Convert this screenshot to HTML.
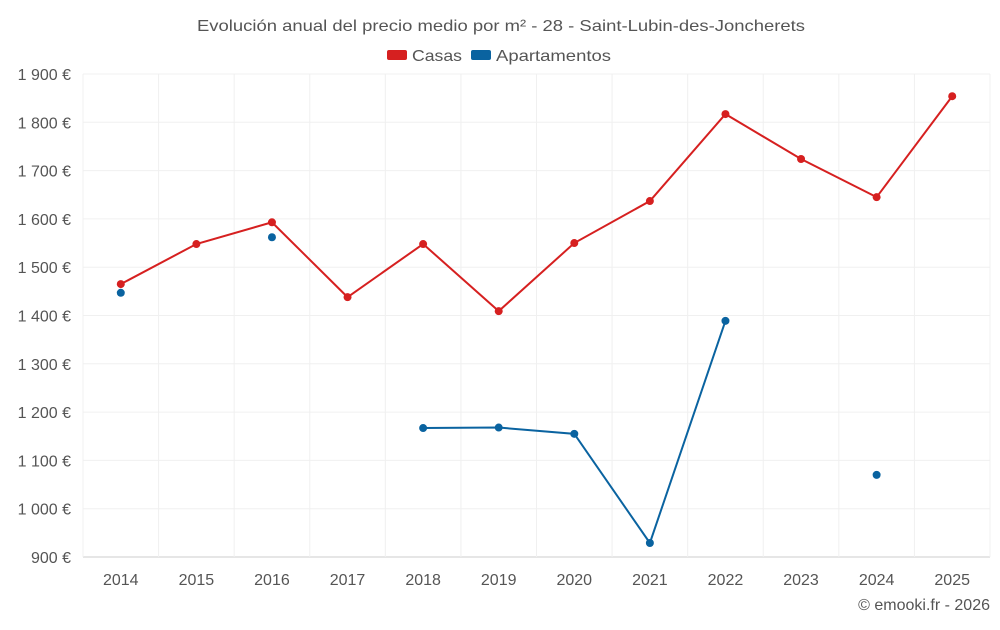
<!DOCTYPE html>
<html><head><meta charset="utf-8"><style>
body{margin:0;background:#fff;font-family:"Liberation Sans",sans-serif}
svg text{font-family:"Liberation Sans",sans-serif}
</style></head><body>
<svg id="chart" width="1000" height="625">
<text x="197" y="31" font-size="16" fill="#555" textLength="608" lengthAdjust="spacingAndGlyphs">Evolución anual del precio medio por m² - 28 - Saint-Lubin-des-Joncherets</text>
<g>
<g><rect x="387" y="50" width="20" height="10" rx="2" fill="#d62020"/><text x="412" y="61" font-size="16" fill="#555" textLength="50" lengthAdjust="spacingAndGlyphs">Casas</text></g>
<g><rect x="471" y="50" width="20" height="10" rx="2" fill="#0a63a0"/><text x="496" y="61" font-size="16" fill="#555" textLength="115" lengthAdjust="spacingAndGlyphs">Apartamentos</text></g>
</g>
<g id="grid"></g><g id="axes"></g><g id="series"></g>
<text x="990" y="610" text-anchor="end" font-size="16" fill="#555">© emooki.fr - 2026</text>
</svg>
<script>
const years=[2014,2015,2016,2017,2018,2019,2020,2021,2022,2023,2024,2025];
const casas=[1465,1548,1593,1438,1548,1409,1550,1637,1817,1724,1645,1854];
const apartamentos=[1447,null,1562,null,1167,1168,1155,929,1389,null,1070,null];
const yTicks=[900,1000,1100,1200,1300,1400,1500,1600,1700,1800,1900];
const L=83,R=990,T=74,B=557,ymin=900,ymax=1900;
const step=(R-L)/years.length;
const xs=i=>L+step*(i+0.5);
const ys=v=>B-(v-ymin)/(ymax-ymin)*(B-T);
const ns="http://www.w3.org/2000/svg";
function mk(t,a,p){const e=document.createElementNS(ns,t);for(const k in a)e.setAttribute(k,a[k]);p.appendChild(e);return e;}
const grid=document.getElementById('grid'),axes=document.getElementById('axes'),ser=document.getElementById('series');
yTicks.forEach(v=>{
 const l=mk('line',{x1:L,x2:R,y1:ys(v),y2:ys(v),stroke:v===ymin?'#ccc':'#f0f0f0'},grid);
 
 
 const t=mk('text',{x:L-12,y:ys(v)+6,'text-anchor':'end','font-size':16,fill:'#555'},axes);
 t.textContent=(v>=1000?Math.floor(v/1000)+' '+String(v%1000).padStart(3,'0'):v)+' €';
 
 
});
for(let i=0;i<=years.length;i++){
 const l=mk('line',{x1:L+step*i,x2:L+step*i,y1:T,y2:B,stroke:'#f0f0f0'},grid);
 
 
}
years.forEach((y,i)=>{
 const t=mk('text',{x:xs(i),y:585,'text-anchor':'middle','font-size':16,fill:'#555'},axes);
 t.textContent=y;
 
 
});
function draw(vals,color,name){
 let seg=[];
 const flush=()=>{if(seg.length>1){const p=mk('polyline',{points:seg.join(' '),fill:'none',stroke:color,'stroke-width':2},ser);
  
  }seg=[];};
 vals.forEach((v,i)=>{if(v==null){flush();return;}seg.push(xs(i)+','+ys(v));});
 flush();
 vals.forEach((v,i)=>{if(v==null)return;
  const c=mk('circle',{cx:xs(i),cy:ys(v),r:4,fill:color},ser);
  
  });
}
draw(casas,'#d62020','casas');
draw(apartamentos,'#0a63a0','apartamentos');
</script>
</body></html>
